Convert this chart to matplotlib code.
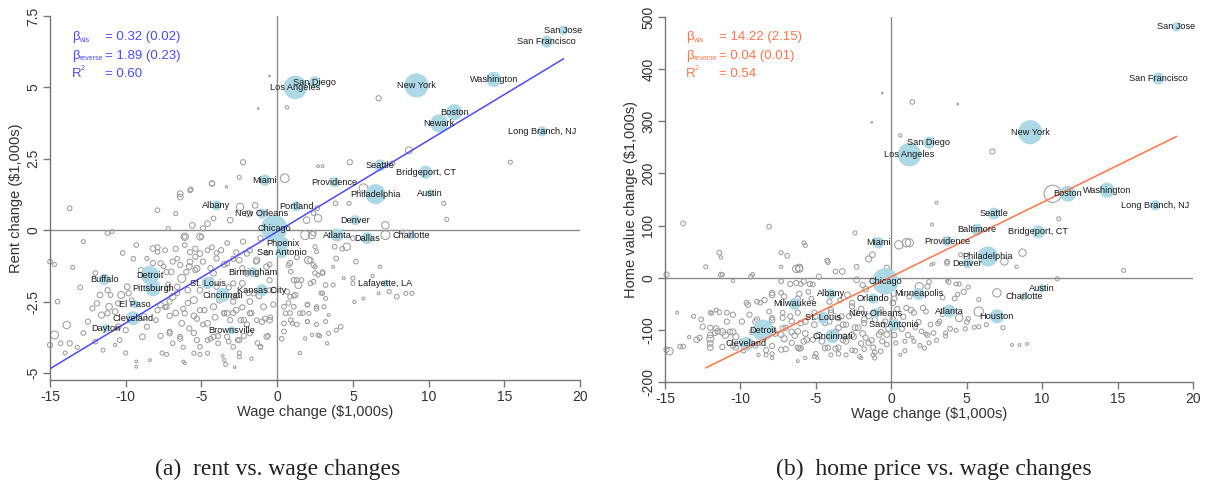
import numpy as np
import matplotlib.pyplot as plt

plt.rcParams['font.family'] = ['Liberation Sans', 'DejaVu Sans']

# panel (a): rent vs wage, labelled metros
rent_cities = ['San Jose', 'San Francisco', 'Washington', 'New York', 'San Diego', 'Los Angeles',
               'Boston', 'Newark', 'Long Branch, NJ', 'Seattle', 'Bridgeport, CT', 'Providence',
               'Philadelphia', 'Austin', 'Miami', 'Portland', 'Albany', 'New Orleans', 'Denver',
               'Chicago', 'Atlanta', 'Dallas', 'Charlotte', 'Phoenix', 'San Antonio', 'Birmingham',
               'Kansas City', 'Lafayette, LA', 'Buffalo', 'Detroit', 'Pittsburgh', 'St. Louis',
               'Cincinnati', 'El Paso', 'Cleveland', 'Dayton', 'Brownsville']
rent_wage = [18.9, 17.8, 14.3, 9.2, 2.5, 1.2, 11.7, 10.7, 17.5, 6.8, 9.8, 3.8, 6.5, 10.1, -0.8,
             1.25, -4.0, -1.0, 5.15, -0.2, 3.95, 5.95, 8.85, 0.4, 0.3, -1.6, -1.0, 7.15, -11.4,
             -8.4, -8.2, -4.6, -3.6, -9.4, -9.5, -11.3, -3.0]
rent_change = [7.0, 6.6, 5.28, 5.07, 5.18, 5.0, 4.13, 3.74, 3.46, 2.27, 2.03, 1.68, 1.26, 1.29,
               1.75, 0.84, 0.87, 0.58, 0.35, 0.07, -0.17, -0.28, -0.17, -0.45, -0.77, -1.47,
               -2.1, -1.86, -1.72, -1.57, -2.03, -1.85, -2.27, -2.59, -3.08, -3.43, -3.5]
rent_pop = [1.8, 3.1, 4.9, 12.5, 3.1, 11.9, 5.6, 7.0, 2.2, 3.1, 3.7, 2.2, 8.7, 1.4, 2.8, 2.2,
            2.2, 2.2, 2.2, 15.0, 3.7, 3.1, 1.4, 3.1, 3.1, 2.2, 3.1, 1.1, 2.6, 7.5, 5.6, 3.1,
            4.3, 1.4, 4.3, 1.4, 1.4]

# remaining metros: (wage change, rent change, population weight)
rent_others = [
    (-13.7, 0.77, .4), (-15, -1.1, .4), (-14.7, -1.2, .3), (-11.2, -0.1, .4), (-10.9, -0.05, .3),
    (-9.3, -0.52, .4), (-8.2, -0.64, .6), (-7.9, -0.76, .4), (-8.6, -0.99, .3), (-7.7, -1.16, .5),
    (-7.2, 0.06, .3), (-6.1, -0.23, 1.0), (-6.4, 1.16, .6), (-5.75, 1.4, .4), (-7.9, 0.7, .4),
    (-6.7, 0.58, .3), (-5.6, 0.17, .6), (-5.1, -0.23, .8), (-4.9, 0.06, .5), (-4.6, 0.23, .6),
    (-4.2, 0.41, .4), (-3.1, 0.35, .6), (-2.45, 0.81, 1.0), (-1.45, 0.87, .6), (-1.9, 0.58, .8),
    (-0.8, 0.58, .5), (-4.3, 1.63, .5),
    (-13.9, -3.32, 1.0), (-14.7, -3.67, 1.2), (-15, -4.02, .5), (-14.3, -3.96, .4), (-13.7, -3.96, .5),
    (-14.0, -4.3, .3), (-13.2, -4.1, .3), (-12.2, -2.74, .5), (-11.9, -2.56, .5), (-11.7, -2.27, .6),
    (-11.2, -2.1, .5), (-11.0, -2.27, .4), (-11.1, -2.68, .8), (-11.2, -2.91, .5), (-11.6, -2.97, .7),
    (-10.7, -2.85, .6), (-10.5, -2.56, .5), (-10.3, -2.27, .9), (-9.9, -1.98, .6), (-9.8, -2.21, .5),
    (-9.6, -2.45, .4), (-10.5, -3.38, .6), (-10.0, -3.5, .5), (-10.7, -4.02, .2), (-10.4, -3.85, .4),
    (-9.3, -4.6, .15), (-9.3, -4.78, .15), (-8.4, -4.55, .15), (-8.9, -3.73, .6), (-8.6, -3.38, .5),
    (-8.8, -3.03, .7), (-8.0, -3.15, .4), (-7.7, -2.62, .6), (-7.3, -2.68, .5), (-6.9, -2.33, .8),
    (-7.2, -2.04, .5), (-6.6, -1.98, .6), (-6.3, -1.69, 1.2), (-6.0, -1.46, .5), (-7.0, -1.46, .6),
    (-6.4, -1.22, .5), (-5.75, -1.11, .6), (-5.4, -0.93, .5), (-5.1, -0.82, .6), (-4.6, -0.7, .4),
    (-4.0, -0.99, .5), (-5.3, -1.34, .7), (-6.1, -2.91, .5), (-6.3, -3.26, .6), (-5.8, -3.44, .5),
    (-6.4, -3.73, .4), (-7.1, -3.61, .5), (-6.9, -3.96, .4), (-6.1, -4.66, .15), (-5.3, -3.85, .5),
    (-5.1, -4.08, .4), (-5.5, -4.31, .3), (-4.6, -3.26, .6), (-4.2, -3.73, .5), (-3.9, -3.96, .4),
    (-3.3, -3.73, .5), (-3.5, -4.55, .2), (-2.9, -4.08, .4), (-2.5, -3.85, .5), (-1.8, -3.61, .5),
    (-1.1, -4.08, .4), (-0.7, -3.73, .5), (-0.5, -3.15, .6), (-0.9, -2.68, .6), (-1.8, -2.91, .5),
    (-2.7, -2.8, .6), (-3.3, -2.91, .6), (-4.2, -2.68, .7), (-5.1, -2.8, .5), (-5.5, -2.45, .9),
    (-3.8, -2.45, .6), (-2.9, -2.33, .5), (-2.3, -1.86, .6), (-2.9, -1.86, .5), (-3.3, -1.16, .5),
    (-2.5, -1.05, .6), (-2.0, -0.82, .5), (-1.35, -1.05, .7), (-0.7, -1.28, .6), (-0.5, -1.75, .5),
    (-0.25, -2.1, .6), (-1.55, -2.21, .5), (-2.0, -1.51, .6), (-4.2, -1.51, .6), (-4.4, -1.75, .5),
    (-5.1, -2.1, .6), (-4.0, -1.98, .5), (-3.1, -3.15, .5), (-2.2, -3.15, .5), (-1.35, -3.15, .4),
    (-4.6, -4.31, .3), (-2.5, -4.43, .3), (-3.5, -2.91, .5),
    (0.2, -0.8, .5), (0.85, -1.15, .5), (2.2, -1.05, .6), (3.0, -1.47, .4), (2.4, -1.8, .4),
    (1.3, -1.75, .5), (0.65, -2.15, .5), (0.75, -2.55, .4), (2.0, -2.6, .4), (1.7, -2.9, .4),
    (2.6, -3.3, .3), (2.8, -3.7, .3), (0.3, -3.8, .4), (-1.1, -4.1, .3), (-3.6, -4.4, .15),
    (-6.2, -4.6, .15), (-3.4, -4.7, .3), (-7.6, -4.3, .3), (-6.2, -4.1, .3), (-4.4, -3.8, .4),
    (-2.6, -3.85, .4), (-2.0, -3.3, .5), (-0.8, -3.1, .5), (-5.3, -3.1, .5), (-7.1, -3.0, .5),
    (-2.9, -2.9, .5), (-0.25, -2.6, .5), (-1.8, -2.5, .6), (-5.9, -2.55, .5), (-7.1, -2.5, .5),
    (-4.9, -1.1, .5), (-5.75, -0.77, .5), (-6.6, -1.0, .4), (-7.3, -1.47, .5), (-4.0, -0.8, .4),
    (-2.9, -1.0, .5), (-2.25, -0.4, .5), (-1.1, -0.28, .5), (0.4, -0.5, .6), (2.3, -0.17, 1.0),
    (-5.0, -0.23, .4), (-6.1, -0.23, .4), (-4.9, -3.3, .4),
    (-7.9, -0.6, .5), (-7.4, -0.7, .4), (-6.7, -0.65, .5), (-6.1, -0.52, .4), (-5.4, -0.65, .5),
    (-4.3, -0.6, .4), (-3.7, -0.7, .5), (-3.3, -0.45, .4), (-2.7, -0.78, .5), (-1.8, -0.7, .5),
    (-0.7, -0.8, .4), (-8.2, -1.15, .5), (-7.5, -1.27, .4), (-6.9, -1.1, .5), (-5.8, -1.27, .6),
    (-5.4, -1.4, .5), (-4.4, -1.33, .5), (-3.5, -1.2, .6), (-2.3, -1.33, .5), (-1.4, -1.1, .5),
    (-0.5, -1.2, .4), (-7.9, -2.0, .5), (-7.2, -1.9, .4), (-6.6, -2.2, .5), (-5.9, -2.1, .6),
    (-3.2, -2.0, .5), (-2.7, -2.3, .5), (-1.9, -2.2, .5), (-1.2, -2.3, .6), (-0.5, -2.1, .4),
    (-2.9, -2.5, .5), (-7.9, -2.8, .5), (-7.4, -2.7, .4), (-6.7, -2.9, .6), (-6.2, -2.75, .5),
    (-5.5, -3.0, .6), (-4.8, -2.8, .5), (-4.1, -3.05, .6), (-3.5, -2.9, .4), (-2.4, -3.15, .5),
    (-1.7, -2.9, .5), (-1.0, -3.2, .6), (-0.45, -3.05, .4), (-2.3, -2.7, .5), (-7.7, -3.7, .5),
    (-7.1, -3.55, .4), (-6.4, -3.8, .5), (-5.5, -3.6, .5), (-4.6, -3.85, .4), (-3.9, -3.7, .5),
    (-3.2, -3.9, .4), (-2.2, -3.7, .5), (-1.3, -3.95, .4), (-0.6, -3.7, .4), (-7.3, -4.35, .3),
    (-5.1, -4.35, .3), (-2.5, -4.3, .3), (-1.7, -4.5, .2), (-2.8, -4.8, .1), (0.85, -2.9, .4),
    (1.3, -3.3, .4), (2.0, -3.2, .3), (2.6, -2.75, .4), (2.9, -2.2, .3), (1.1, -2.3, .4),
    (1.6, -1.75, .4), (2.5, -1.5, .4), (0.9, -1.45, .4), (1.3, -0.95, .4),
    (-13.0, -2.0, .4), (-12.5, -3.2, .5), (-12.8, -3.6, .4), (-12.0, -3.9, .4), (-11.5, -4.2, .3),
    (-10.0, -4.3, .3), (-12.0, -1.5, .4), (-13.5, -1.3, .3), (-14.5, -2.5, .4), (-9.0, -1.4, .5),
    (-9.5, -1.0, .4), (-10.2, -0.8, .4), (-12.8, -0.4, .3),
    (15.4, 2.38, .3), (4.8, 2.38, .5), (2.7, 2.24, .15), (3.0, 2.24, .15), (0.5, 1.82, 1.4),
    (5.7, 1.47, 1.4), (11.0, 0.94, .3), (11.2, 0.38, .3), (3.85, 0.94, .4), (4.75, 0.94, .3),
    (2.65, 0.77, .4), (2.7, 0.42, 1.0), (1.95, 0.35, .8), (2.4, 0.6, .4), (7.15, 0.17, 1.0),
    (8.3, -0.05, .2), (2.4, -0.1, .5), (1.85, -0.17, 1.5), (4.6, -0.58, 1.0), (4.3, -0.65, .4),
    (3.8, -0.58, .4), (7.15, -0.17, 1.5), (5.0, -0.28, .4), (2.5, -0.58, .3), (2.6, -0.75, .3),
    (2.05, -1.05, 1.0), (2.4, -1.22, .4), (0.75, -1.22, .4), (3.9, -0.99, .4), (5.2, -1.1, .4),
    (6.8, -1.28, .2), (2.5, -1.28, .3), (3.0, -1.5, .4), (2.7, -1.57, .3), (3.7, -1.28, .15),
    (6.3, -1.6, .2), (4.4, -1.68, .15), (5.0, -1.68, .3), (1.1, -1.75, .5), (1.4, -1.92, .9),
    (2.2, -1.86, .4), (3.2, -1.92, .4), (3.7, -1.92, .3), (5.0, -1.86, .3), (7.4, -2.15, .3),
    (7.9, -2.33, .4), (8.5, -2.21, .3), (8.9, -2.21, .3), (6.7, -2.21, .15), (5.7, -2.39, .15),
    (5.1, -2.51, .2), (3.0, -2.21, .3), (1.2, -2.27, .5), (0.85, -2.33, .4), (3.2, -2.39, .3),
    (2.0, -2.62, .3), (2.6, -2.68, .3), (3.1, -2.68, .3), (0.45, -2.68, .4), (1.1, -2.68, .4),
    (1.5, -2.91, .4), (2.1, -2.91, .3), (3.4, -2.97, .15), (0.55, -2.91, .4), (0.9, -3.15, .4),
    (1.0, -3.26, .3), (2.0, -3.2, .3), (3.2, -3.2, .3), (4.2, -3.38, .4), (3.9, -3.5, .3),
    (2.3, -3.67, .2), (2.7, -3.67, .3), (3.4, -3.61, .3), (1.85, -3.79, .2), (3.3, -3.96, .2),
    (0.45, -3.55, .4), (1.5, -4.3, .2), (0.45, -3.26, .4),
    (-0.5, 5.4, .05), (-1.25, 4.26, .05), (0.65, 4.3, .2), (-2.25, 2.38, .5), (-2.5, 1.85, .3),
    (-4.3, 1.64, .5), (-3.35, 1.52, .1), (-5.7, 1.43, .4), (-6.4, 1.28, .6), (6.7, 4.62, .5),
    (8.7, 2.8, .9), (7.6, 2.34, .4),
]
rent_fit = (-0.05, 0.32)
rent_fit_range = (-15, 18.9)
rent_stats = ['0.32 (0.02)', '1.89 (0.23)', '0.60']

# panel (b): home value vs wage
home_cities = ['San Jose', 'San Francisco', 'New York', 'San Diego', 'Los Angeles', 'Boston',
               'Washington', 'Long Branch, NJ', 'Seattle', 'Baltimore', 'Bridgeport, CT',
               'Providence', 'Philadelphia', 'Denver', 'Austin', 'Charlotte', 'Houston', 'Atlanta',
               'Minneapolis', 'Miami', 'Chicago', 'Albany', 'Orlando', 'Milwaukee', 'New Orleans',
               'St. Louis', 'San Antonio', 'Detroit', 'Cincinnati', 'Cleveland']
home_wage = [18.9, 17.7, 9.2, 2.5, 1.2, 11.7, 14.3, 17.5, 6.8, 5.7, 9.75, 3.7, 6.4, 5.05, 10.0,
             8.8, 7.0, 3.85, 1.8, -0.85, -0.4, -4.0, -1.2, -6.4, -1.05, -4.5, 0.2, -8.5, -3.9, -9.6]
home_change = [481, 382, 279, 259, 236, 161, 168, 139, 123, 92, 88, 70, 41, 28, -20, -36, -74,
               -64, -31, 67, -7, -31, -40, -50, -68, -77, -90, -101, -112, -127]
home_pop = [1.8, 3.1, 12.5, 3.1, 11.9, 5.6, 4.9, 2.2, 3.1, 3.1, 3.7, 2.2, 8.7, 2.2, 1.4, 1.4,
            4.3, 3.7, 3.1, 2.8, 15.0, 2.2, 2.2, 3.1, 2.2, 3.1, 3.1, 10.0, 4.3, 4.3]

home_others = [
    (10.7, 161, 5.5), (1.4, 337, .4), (4.4, 333, .05), (6.7, 242, .5), (0.6, 273, .2),
    (3.0, 144, .15), (11.1, 113, .3), (-0.6, 354, .05), (-1.3, 298, .05),
    (-13.8, 104, .4), (-8.1, 98, .4), (-2.4, 86, .3), (-5.8, 67, .3), (-5.7, 62, .3),
    (-11.4, 48, .4), (-7.3, 48, .3), (-6.9, 42, .4), (-11.3, 39, .2), (-4.25, 33, .4),
    (-4.2, 30, .4), (-12.3, 21, .3), (-7.3, 21, .2), (-6.3, 17, 1.0), (-6.1, 17, .9),
    (-2.3, 21, .4), (-3.25, 12, .6), (-3.7, 12, .4), (-14.9, 6, .5), (-11.3, 6, .4),
    (-9.3, 2, .4), (-10.5, -6, .2), (-7.3, -7, .4), (-6.3, -10, .5), (-5.8, -7, .5),
    (-5.2, -13, .4), (-4.8, 2, .5), (-2.3, -4, .6), (-1.9, -14, .5), (-1.25, 44, .6),
    (-1.5, 36, .7), (-0.3, 19, .5), (0.5, 63, 1.3), (1.0, 67, 1.3),
    (-9.6, -48, .4), (-8.9, -46, .4), (-8.4, -43, .5), (-7.9, -33, .6), (-7.1, -36, .5),
    (-6.2, -40, .5), (-5.3, -40, .4), (-4.1, -46, .5), (-3.4, -43, .4), (-2.9, -33, .6),
    (-2.6, -48, .5), (-1.7, -22, .6), (-11.6, -62, .3), (-10.9, -67, .4), (-12.0, -67, .3),
    (-14.2, -67, .15), (-13.1, -74, .3), (-12.0, -96, .5), (-11.5, -103, .6), (-11.7, -106, .5),
    (-10.5, -104, .7), (-11.0, -110, .8), (-12.0, -110, .6), (-12.7, -115, .5),
    (-14.9, -138, .5), (-14.7, -141, 1.0), (-14.0, -132, .4), (-13.8, -132, .4),
    (-13.4, -114, .2), (-12.0, -134, .6), (-10.3, -134, .5), (-9.8, -140, .4), (-8.3, -148, .3),
    (-7.9, -146, .3), (-8.8, -148, .2), (-7.0, -137, .5), (-6.2, -134, .5), (-7.3, -109, .6),
    (-7.0, -96, .5), (-6.6, -84, .5), (-7.9, -77, .4), (-8.9, -80, .5), (-7.2, -67, .4),
    (-6.2, -67, .5), (-5.7, -84, .6), (-6.2, -103, .6), (-5.8, -122, .6), (-5.2, -119, .5),
    (-4.6, -122, .6), (-4.2, -134, .5), (-6.2, -160, .15), (-5.1, -151, .3), (-4.0, -148, .3),
    (-3.5, -134, .5), (-3.0, -122, .6), (-2.6, -109, .6), (-2.2, -96, .6), (-3.0, -90, .5),
    (-3.5, -96, .6), (-1.7, -115, .5), (-1.2, -134, .5), (-0.6, -122, .5), (-0.7, -141, .4),
    (-1.2, -148, .3), (-2.1, -151, .3), (-3.0, -148, .3), (-0.3, -109, .6), (-2.4, -67, .5),
    (-1.8, -80, .6), (-3.3, -74, .5), (-4.0, -67, .5), (-5.1, -67, .5), (0.1, -80, .6),
    (0.1, -48, .6),
    (3.7, 28, .4), (2.65, 25, .15), (4.6, 44, .3), (3.8, -8, .4), (4.3, -12, .3),
    (2.5, -8, .4), (1.85, -17, 1.2), (2.4, -17, .5), (4.8, -27, .5), (7.0, -29, 1.3),
    (3.4, -38, .4), (4.2, -40, .4), (1.2, -36, .5), (0.2, -40, .5), (5.8, -42, .3),
    (1.3, -62, .6), (2.1, -58, .5), (2.3, -65, .4), (1.5, -67, .5), (1.0, -58, .5),
    (5.8, -65, 1.6), (4.5, -77, 1.0), (5.1, -79, .4), (5.0, -85, .4), (6.3, -90, .3),
    (7.4, -96, .3), (3.2, -84, .4), (3.1, -88, .4), (3.9, -98, .4), (4.3, -101, .3),
    (3.6, -106, .3), (2.8, -106, .4), (2.4, -110, .4), (2.0, -103, .4), (1.6, -95, .4),
    (1.1, -110, .5), (0.7, -98, .5), (0.2, -110, .5), (-0.2, -98, .5), (1.5, -122, .3),
    (0.6, -148, .15), (2.5, -125, .3), (-0.3, -128, .4), (4.9, -98, .3), (5.5, -95, .3),
    (8.0, -129, .15), (8.5, -129, .15), (9.0, -127, .15), (2.7, 102, .15), (1.2, 67, 1.2),
    (8.7, 48, 1.0), (7.5, 31, 1.0), (3.7, 31, .4), (2.8, 27, .15), (8.3, 21, .2),
    (15.4, 14, .3), (11.0, -2, .3), (3.7, -6, .15), (4.5, -12, .3), (5.1, -18, .3),
    (4.4, -32, .3), (5.8, -94, .3), (3.6, -112, .3), (2.3, -108, .3), (0.9, -122, .3),
    (0.3, -125, .3), (1.4, -115, .15),
    (0.8, -75, .5), (1.8, -85, .5), (2.6, -90, .4), (3.4, -70, .4), (0.4, -60, .5),
    (1.9, -130, .3), (0.9, -140, .3), (-0.5, -90, .5), (3.0, -120, .3), (2.2, -135, .3),
    (-11.2, 6, .3), (-9.2, 6, .3), (-6.1, 19, 1.0), (-6.7, -12, .5), (-6.0, -12, .4),
    (-5.4, -12, .5), (-7.9, -29, .5), (-7.3, -29, .4), (-6.1, -31, .5), (-5.5, -27, .4),
    (-9.5, -52, .5), (-8.7, -48, .4), (-11.9, -68, .3), (-11.4, -66, .4), (-10.5, -71, .5),
    (-9.9, -84, .5), (-9.0, -84, .6), (-7.9, -81, .6), (-7.2, -77, .5), (-6.0, -87, .6),
    (-5.1, -90, .6), (-4.4, -87, .5), (-3.2, -90, .6), (-2.4, -96, .6), (-1.8, -87, .5),
    (-3.5, -78, .5), (-4.0, -62, .5), (-2.6, -55, .5), (-2.0, -60, .6), (-0.7, -62, .6),
    (-1.1, -81, .5), (-11.2, -104, .8), (-12.0, -117, .9), (-12.9, -119, .6), (-10.3, -113, .7),
    (-9.9, -123, .6), (-8.6, -113, .6), (-7.7, -107, .6), (-7.1, -117, .7), (-6.4, -111, .6),
    (-6.6, -125, .5), (-5.6, -119, .6), (-3.2, -119, .6), (-2.5, -113, .6), (-1.9, -107, .6),
    (-1.5, -125, .5), (-0.8, -109, .6), (-7.9, -131, .5), (-4.4, -135, .5), (-3.5, -146, .4),
    (-2.4, -140, .4), (-1.8, -137, .4), (-6.0, -135, .5), (-7.3, -138, .5), (-4.9, -154, .15),
    (-1.1, -154, .3),
    (-12.5, -94, .5), (-11.6, -97, .5), (-10.7, -104, .6), (-9.2, -104, .6), (-7.9, -100, .6),
    (-7.2, -97, .5), (-6.6, -104, .6), (-5.7, -107, .6), (-4.8, -110, .6), (-3.7, -104, .6),
    (-3.1, -113, .5), (-2.0, -126, .5), (-1.3, -120, .5), (-0.7, -104, .5), (-12.0, -126, .6),
    (-11.2, -133, .5), (-10.5, -130, .6), (-9.0, -130, .5), (-8.3, -139, .5), (-6.1, -136, .5),
    (-5.0, -146, .4), (-3.7, -136, .5), (-2.6, -139, .4), (-1.1, -143, .4), (-5.7, -154, .2),
    (-7.9, -154, .2), (-2.0, -154, .2), (-12.6, -80, .4), (-10.9, -84, .5), (-9.4, -71, .5),
    (-8.1, -65, .4), (-6.7, -74, .5), (-5.0, -74, .5), (-4.1, -84, .5), (-2.8, -74, .5),
    (-1.5, -74, .5), (-0.4, -84, .5),
]
home_fit = (2.0, 14.22)
home_fit_range = (-12.3, 18.9)
home_stats = ['14.22 (2.15)', '0.04 (0.01)', '0.54']

W, H = 1213, 491
fig = plt.figure(figsize=(W / 100, H / 100), dpi=100)


def fpos(px, py):
    return px / W, 1 - py / H


def bubble(pop, k=24):
    return k * np.asarray(pop, dtype=float)


def draw_panel(rect, ylim, yticks, yticklabels, ylabel, cities, wage, change, pop,
               others, fit, fit_range, color):
    ax = fig.add_axes(rect)
    ax.set_xlim(-15, 20)
    ax.set_ylim(*ylim)
    for side in ['top', 'right']:
        ax.spines[side].set_visible(False)
    for side in ['left', 'bottom']:
        ax.spines[side].set_color('#777777')
        ax.spines[side].set_linewidth(1.0)
    ax.set_xticks([-15, -10, -5, 0, 5, 10, 15, 20])
    ax.set_xticklabels(['-15', '-10', '-5', '0', '5', '10', '15', '20'])
    ax.set_yticks(yticks)
    ax.set_yticklabels(yticklabels, rotation=90, va='center')
    ax.tick_params(direction='out', length=5, width=1, color='#777777',
                   labelsize=10, labelcolor='#333333', pad=2)
    ax.set_xlabel('Wage change ($1,000s)', fontsize=10.5, color='#333333', labelpad=1)
    ax.set_ylabel(ylabel, fontsize=10.5, color='#333333', labelpad=2)

    ax.axhline(0, color='#8a8a8a', lw=1.0, zorder=1)
    ax.axvline(0, color='#8a8a8a', lw=1.0, zorder=1)

    ox = [o[0] for o in others]
    oy = [o[1] for o in others]
    op = [o[2] for o in others]
    ax.scatter(ox, oy, s=bubble(op, 28), facecolors='none', edgecolors='#9e9e9e',
               linewidths=0.75, zorder=2, clip_on=False)

    ax.scatter(wage, change, s=bubble(pop), color='#add8e6', edgecolors='none',
               zorder=3, clip_on=False)
    for name, x, y in zip(cities, wage, change):
        ax.text(x, y, name, ha='center', va='center', fontsize=6.6, color='#1a1a1a',
                zorder=5, clip_on=False)

    xs = np.array(fit_range)
    ax.plot(xs, fit[0] + fit[1] * xs, color=color, lw=1.1, zorder=4)
    return ax


ax1 = draw_panel([50 / W, 1 - 380 / H, 530 / W, 364 / H], (-5.245, 7.5),
                 [-5, -2.5, 0, 2.5, 5, 7.5], ['-5', '-2.5', '0', '2.5', '5', '7.5'],
                 'Rent change ($1,000s)', rent_cities, rent_wage, rent_change, rent_pop,
                 rent_others, rent_fit, rent_fit_range, '#4b4bff')

ax2 = draw_panel([665 / W, 1 - 382 / H, 528 / W, 365 / H], (-200, 500),
                 [-200, -100, 0, 100, 200, 300, 400, 500],
                 ['-200', '-100', '0', '100', '200', '300', '400', '500'],
                 'Home value change ($1,000s)', home_cities, home_wage, home_change, home_pop,
                 home_others, home_fit, home_fit_range, '#ff7448')


def stats_block(x0, x_eq, stats, color):
    rows = [('β', 'wls', stats[0]), ('β', 'reverse', stats[1]), ('R', '2', stats[2])]
    for i, (sym, sub, val) in enumerate(rows):
        y = 37 + 18.5 * i
        fig.text(*fpos(x0, y), sym, color=color, fontsize=9.5, va='center', ha='left')
        if sub == '2':
            fig.text(*fpos(x0 + 8.5, y - 5), sub, color=color, fontsize=5, va='center', ha='left')
        else:
            fig.text(*fpos(x0 + 7.5, y + 3), sub, color=color, fontsize=5, va='center', ha='left')
        fig.text(*fpos(x_eq, y), '= ' + val, color=color, fontsize=9.5, va='center', ha='left')


stats_block(72, 105, rent_stats, '#4b4bff')
stats_block(686, 719, home_stats, '#ff7448')

fig.text(*fpos(278, 469), '(a)  rent vs. wage changes', family=['Liberation Serif', 'DejaVu Serif'],
         fontsize=17, ha='center', va='center', color='#222222')
fig.text(*fpos(934, 469), '(b)  home price vs. wage changes', family=['Liberation Serif', 'DejaVu Serif'],
         fontsize=17, ha='center', va='center', color='#222222')

fig.savefig('out.png', dpi=100)
